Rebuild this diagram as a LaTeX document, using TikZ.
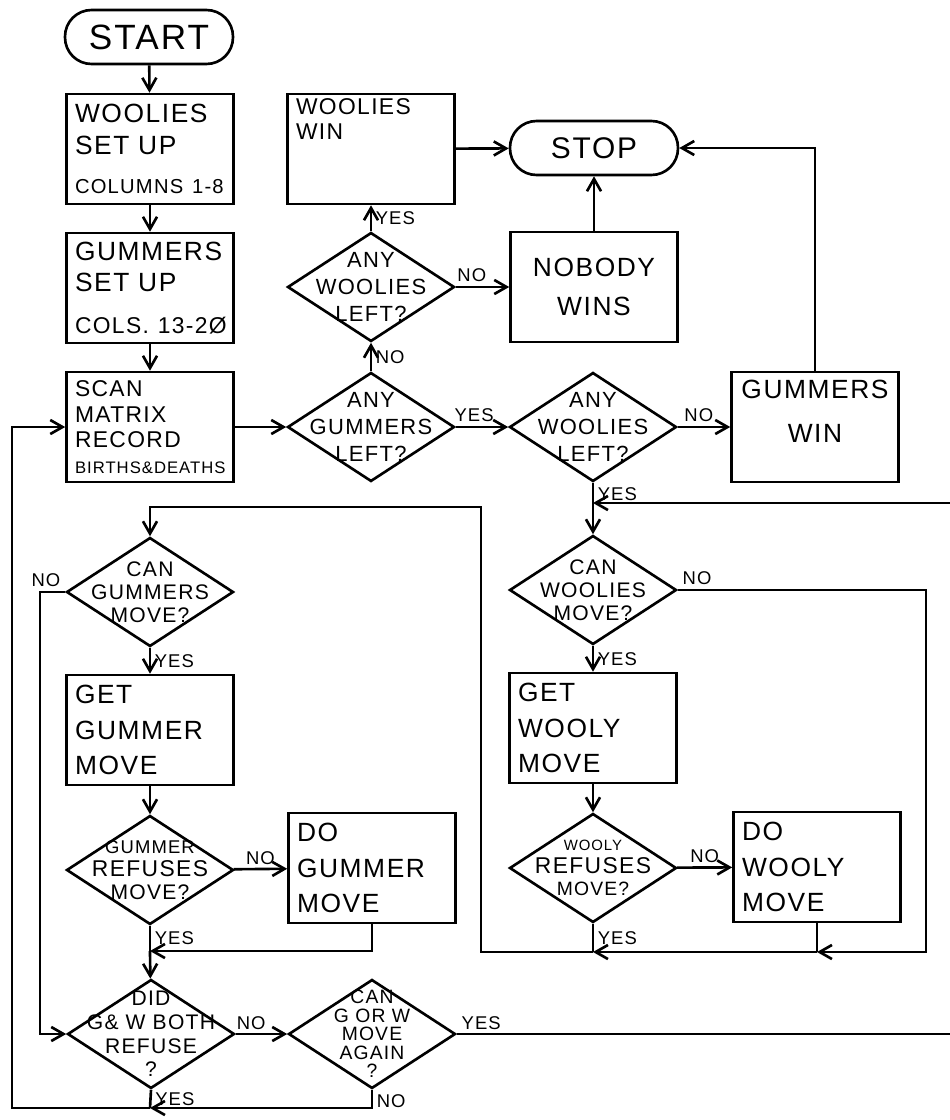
\documentclass[tikz,border=0pt]{standalone}
\usepackage{fontspec}
\setmainfont{Liberation Sans}[LetterSpace=6.0]
\usetikzlibrary{arrows.meta,shapes.geometric}

\begin{document}
\begin{tikzpicture}[x=0.02cm, y=-0.02cm, line width=1.5pt,
	>={Straight Barb[length=7pt,width=8pt]},
	box/.style={draw, rectangle, minimum width=3.34cm, minimum height=2.2cm, inner xsep=0.17cm, inner ysep=2pt, text width=3cm, align=left, font=\fontsize{15}{20}\selectfont},
	term/.style={draw, rectangle, rounded corners=0.53cm, minimum width=3.36cm, minimum height=1.08cm},
	decision/.style={draw, diamond, minimum width=3.34cm, minimum height=2.18cm, inner sep=0pt},
	dtext/.style={align=center, inner sep=0pt, font=\fontsize{12.5}{15.5}\selectfont},
	yn/.style={font=\fontsize{10.5}{12}\selectfont, inner sep=2pt}]

	\useasboundingbox (0,0) rectangle (950,1120);

	% set up
	\node[term] (start) at (149, 37) {\fontsize{20}{22}\selectfont START};
	\node[box, font=\fontsize{15}{18}\selectfont] (wsetup) at (150, 149) {WOOLIES\\SET UP\\[4pt]\mbox{\fontsize{11.5}{14}\selectfont COLUMNS 1-8}};
	\node[box, font=\fontsize{15}{18}\selectfont] (gsetup) at (150, 288) {GUMMERS\\SET UP\\[6pt]\mbox{\fontsize{13}{15}\selectfont COLS. 13-2Ø}};
	\node[box, font=\fontsize{13}{14.5}\selectfont] (scan) at (150, 427) {SCAN\\MATRIX\\RECORD\\\mbox{\fontsize{9.5}{11}\selectfont BIRTHS\&DEATHS}};

	% end of game
	\node[decision, label={[dtext]center:{ANY\\GUMMERS\\LEFT?}}] (gleft) at (371, 427) {};
	\node[decision, label={[dtext]center:{ANY\\WOOLIES\\LEFT?}}] (wleft1) at (371, 287) {};
	\node[box, font=\fontsize{13}{14}\selectfont] (wwin) at (371, 149) {WOOLIES\\WIN\\[20pt]\mbox{}};
	\node[term] (stop) at (594, 148) {\fontsize{17}{19}\selectfont STOP};
	\node[box, align=center, font=\fontsize{15}{22}\selectfont] (nobody) at (594, 287) {NOBODY\\WINS};
	\node[decision, label={[dtext]center:{ANY\\WOOLIES\\LEFT?}}] (wleft2) at (593, 427) {};
	\node[box, align=center, font=\fontsize{15}{25}\selectfont] (gwin) at (815, 427) {GUMMERS\\WIN\\[-7pt]\mbox{}};

	% gummers turn
	\node[decision, label={[dtext, font=\fontsize{12}{13}\selectfont]center:{CAN\\GUMMERS\\MOVE?}}] (gcan) at (150, 592) {};
	\node[box] (gget) at (150, 730) {GET\\GUMMER\\MOVE};
	\node[decision, label={[dtext, font=\fontsize{12}{13}\selectfont]center:{{\fontsize{10.5}{12}\selectfont GUMMER}\\{\fontsize{13}{13}\selectfont REFUSES}\\MOVE?}}] (grefuse) at (150, 870) {};
	\node[box] (gdo) at (372, 868) {DO\\GUMMER\\MOVE};

	% woolies turn
	\node[decision, label={[dtext, font=\fontsize{12}{13}\selectfont]center:{CAN\\WOOLIES\\MOVE?}}] (wcan) at (593, 590) {};
	\node[box] (wget) at (593, 728) {GET\\WOOLY\\MOVE};
	\node[decision, label={[dtext, font=\fontsize{11}{13}\selectfont]center:{{\fontsize{8.5}{10}\selectfont WOOLY}\\{\fontsize{13}{13}\selectfont REFUSES}\\MOVE?}}] (wrefuse) at (593, 868) {};
	\node[box] (wdo) at (817, 867) {DO\\WOOLY\\MOVE};

	% both refused
	\node[decision, label={[dtext, font=\fontsize{12}{13.5}\selectfont]center:{DID\\G\& W BOTH\\REFUSE\\?}}] (both) at (151, 1034) {};
	\node[decision, label={[dtext, font=\fontsize{11}{10.5}\selectfont]center:{CAN\\G OR W\\MOVE\\AGAIN\\?}}] (again) at (372, 1034) {};

	\coordinate (gjoin) at (150, 951);
	\coordinate (bjoin) at (150, 1108);
	\coordinate (scanin) at (12, 427);
	\coordinate (gno) at (40, 1034);
	\coordinate (gtop) at (481, 507);
	\coordinate (wtop) at (593, 503);
	\coordinate (redge) at (962, 503);
	\coordinate (wjoin) at (593, 952);
	\coordinate (wdoj) at (817, 952);
	\coordinate (wback) at (926, 952);

	\path[->] (start) edge (wsetup);
	\path[->] (wsetup) edge (gsetup);
	\path[->] (gsetup) edge (scan);
	\path[->] (scan) edge (gleft);

	\path[->] (gleft) edge node[yn, right]{NO} (wleft1);
	\path[->] (wleft1) edge node[yn, right]{YES} (wwin);
	\path[->] (wleft1) edge node[yn, above, pos=0.3]{NO} (nobody);
	\path[->] (wwin) edge (stop);
	\path[->] (nobody) edge (stop);
	\draw[->] (gwin.north) |- (stop.east);
	\path[->] (gleft) edge node[yn, above, pos=0.35]{YES} (wleft2);
	\path[->] (wleft2) edge node[yn, above, pos=0.4]{NO} (gwin);
	\draw (wleft2.south) node[yn, below right]{YES} -- (wtop);
	\path[->] (wtop) edge (wcan);

	\path[->] (gcan) edge node[yn, right]{YES} (gget);
	\path[->] (gget) edge (grefuse);
	\path[->] (grefuse) edge node[yn, above]{NO} (gdo);
	\draw[->] (gdo.south) |- (gjoin);
	\draw (grefuse.south) -- node[yn, right]{YES} (gjoin);
	\path[->] (gjoin) edge (both);
	\draw[->] (gcan.west) node[yn, above left]{NO} -| (gno) -- (both.west);

	\path[->] (wcan) edge node[yn, right]{YES} (wget);
	\path[->] (wget) edge (wrefuse);
	\path[->] (wrefuse) edge node[yn, above]{NO} (wdo);
	\draw[->] (wcan.east) node[yn, above right]{NO} -| (wback) -- (wdoj);
	\draw (wdo.south) -- (wdoj);
	\draw[->] (wdoj) -- (wjoin);
	\draw (wrefuse.south) -- node[yn, right]{YES} (wjoin);
	\draw[->] (wjoin) -| (gtop) -| (gcan.north);

	\path[->] (both) edge node[yn, above, pos=0.3]{NO} (again);
	\draw[->] (again.east) node[yn, above right]{YES} -| (redge) -- (wtop);
	\draw (both.south) -- node[yn, right]{YES} (bjoin);
	\draw[->] (again.south) node[yn, below right]{NO} |- (bjoin);
	\draw[->] (bjoin) -| (scanin) -- (scan.west);

\end{tikzpicture}
\end{document}
